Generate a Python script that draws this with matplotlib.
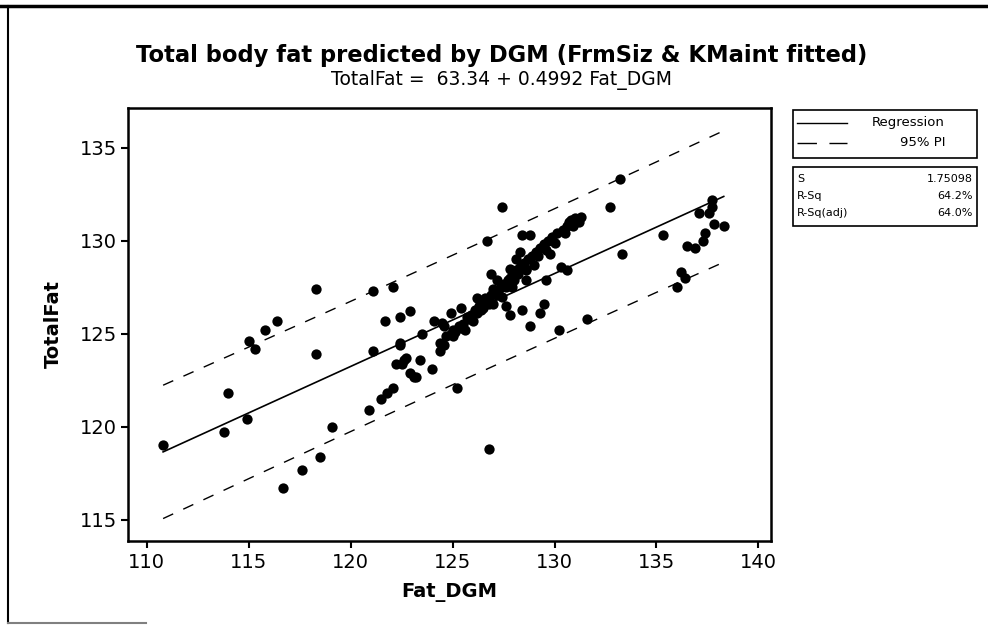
import numpy as np
import matplotlib
matplotlib.use('Agg')
import matplotlib.pyplot as plt
from matplotlib.lines import Line2D
from matplotlib.patches import Rectangle

plt.rcParams['font.family'] = ['DejaVu Sans']

# fitted model (from the chart subtitle / stats box)
b0, b1 = 63.34, 0.4992
s_val = 1.75098
r_sq = '64.2%'
r_sq_adj = '64.0%'
t_crit = 1.98

fat_dgm = [110.8, 113.8, 114.0, 114.9, 115.0, 115.3, 115.8, 116.4, 116.7, 117.6,
           118.3, 118.3, 118.5, 119.1, 120.9, 121.1, 121.1, 121.5, 121.7, 121.8,
           122.1, 122.1, 122.2, 122.4, 122.4, 122.4, 122.5, 122.6, 122.7, 122.9,
           122.9, 123.1, 123.2, 123.4, 123.5, 124.0, 124.1, 124.4, 124.4, 124.5,
           124.6, 124.7, 124.9, 124.9, 125.0, 125.1, 125.2, 125.3, 125.4, 125.5,
           125.6, 125.7, 125.9, 126.0, 126.1, 126.2, 126.3, 126.5, 126.5, 126.6,
           126.7, 126.8, 126.8, 126.9, 126.9, 127.0, 127.1, 127.2, 127.3, 127.4,
           127.4, 127.5, 127.6, 127.7, 127.8, 127.8, 127.9, 127.9, 128.1, 128.1,
           128.3, 128.3, 128.4, 128.4, 128.5, 128.6, 128.6, 128.7, 128.8, 128.8,
           128.9, 129.0, 129.1, 129.3, 129.3, 129.5, 129.5, 129.6, 129.7, 129.8,
           129.9, 130.1, 130.2, 130.3, 130.4, 130.6, 130.6, 130.7, 130.8, 131.0,
           131.3, 131.6, 132.7, 133.2, 133.3, 135.3, 136.0, 136.2, 136.4, 136.5,
           136.9, 137.1, 137.3, 137.4, 137.6, 137.7, 137.7, 137.8, 138.3,
           124.6, 125.0, 125.4, 125.8, 126.2, 126.4, 126.8, 127.2, 127.6, 128.0,
           128.2, 128.6, 129.2, 129.6, 130.0, 130.5, 130.9, 131.2, 127.0, 127.8]
total_fat = [119.0, 119.7, 121.8, 120.4, 124.6, 124.2, 125.2, 125.7, 116.7, 117.7,
             127.4, 123.9, 118.4, 120.0, 120.9, 124.1, 127.3, 121.5, 125.7, 121.8,
             127.5, 122.1, 123.4, 125.9, 124.5, 124.4, 123.4, 123.6, 123.7, 122.9,
             126.2, 122.7, 122.7, 123.6, 125.0, 123.1, 125.7, 124.5, 124.1, 125.6,
             125.4, 124.9, 126.1, 125.0, 125.2, 125.1, 122.1, 125.4, 126.4, 125.5,
             125.2, 125.9, 126.0, 125.7, 126.3, 126.9, 126.5, 126.7, 126.4, 126.9,
             130.0, 126.9, 118.8, 128.2, 127.1, 126.6, 127.3, 127.9, 127.4, 131.8,
             127.0, 127.7, 126.5, 127.9, 126.0, 128.5, 128.1, 127.5, 128.4, 129.0,
             128.6, 129.4, 130.3, 126.3, 128.8, 127.9, 128.4, 129.0, 125.4, 130.3,
             129.2, 128.7, 129.4, 129.6, 126.1, 129.8, 126.6, 127.9, 130.0, 129.3,
             130.2, 130.4, 125.2, 128.6, 130.6, 130.8, 128.4, 131.0, 131.1, 131.2,
             131.3, 125.8, 131.8, 133.3, 129.3, 130.3, 127.5, 128.3, 128.0, 129.7,
             129.6, 131.5, 130.0, 130.4, 131.5, 132.2, 131.8, 130.9, 130.8,
             124.4, 124.9, 125.3, 125.8, 126.1, 126.3, 126.6, 127.1, 127.5, 127.9,
             128.2, 128.5, 129.2, 129.5, 129.9, 130.4, 130.8, 131.0, 127.4, 128.0]

x = np.array(fat_dgm)
y = np.array(total_fat)

fig = plt.figure(figsize=(9.88, 6.26), dpi=100)
ax = fig.add_axes([0.130, 0.136, 0.650, 0.692])

xs = np.linspace(x.min(), x.max(), 200)
yhat = b0 + b1 * xs
n = len(x)
sxx = np.sum((x - x.mean()) ** 2)
half = t_crit * s_val * np.sqrt(1 + 1 / n + (xs - x.mean()) ** 2 / sxx)

ax.scatter(x, y, s=55, color='black', zorder=3, linewidths=0)
ax.plot(xs, yhat, color='black', lw=1.2)
ax.plot(xs, yhat + half, color='black', lw=1.0, dashes=(8, 8))
ax.plot(xs, yhat - half, color='black', lw=1.0, dashes=(8, 8))

ax.set_xlim(109.1, 140.6)
ax.set_ylim(113.87, 137.15)
ax.set_xticks([110, 115, 120, 125, 130, 135, 140])
ax.set_yticks([115, 120, 125, 130, 135])
ax.tick_params(direction='out', length=5, width=1.5, labelsize=14)
for sp in ax.spines.values():
    sp.set_linewidth(1.8)

ax.set_xlabel('Fat_DGM', fontsize=14, fontweight='bold', labelpad=8)
ax.set_ylabel('TotalFat', fontsize=14, fontweight='bold', labelpad=12)

fig.text(0.508, 0.912, 'Total body fat predicted by DGM (FrmSiz & KMaint fitted)',
         ha='center', va='center', fontsize=16.3, fontweight='bold')
fig.text(0.508, 0.872, 'TotalFat =  63.34 + 0.4992 Fat_DGM',
         ha='center', va='center', fontsize=13.5)

W, H = 988.0, 626.0


def fx(px):
    return px / W


def fy(py):
    return 1 - py / H


# legend box
fig.add_artist(Rectangle((fx(793), fy(158)), fx(184), 48 / H, fill=False,
                         lw=1.2, color='black', transform=fig.transFigure))
fig.add_artist(Line2D([fx(797), fx(847)], [fy(123), fy(123)], color='black', lw=1.0,
                      transform=fig.transFigure))
fig.add_artist(Line2D([fx(797), fx(847)], [fy(143), fy(143)], color='black', lw=1.0,
                      dashes=(14, 9), transform=fig.transFigure))
fig.text(fx(945), fy(123), 'Regression', ha='right', va='center', fontsize=9.5)
fig.text(fx(945), fy(143), '95% PI', ha='right', va='center', fontsize=9.5)

# stats box
fig.add_artist(Rectangle((fx(793), fy(226)), fx(184), 59 / H, fill=False,
                         lw=1.2, color='black', transform=fig.transFigure))
rows = [('S', f'{s_val}'), ('R-Sq', r_sq), ('R-Sq(adj)', r_sq_adj)]
for i, (lab, val) in enumerate(rows):
    yy = fy(179 + i * 17)
    fig.text(fx(797), yy, lab, ha='left', va='center', fontsize=8)
    fig.text(fx(973), yy, val, ha='right', va='center', fontsize=8)

# scanned page frame
fig.add_artist(Line2D([0, 1], [fy(6), fy(6)], color='black', lw=2.5, transform=fig.transFigure))
fig.add_artist(Line2D([fx(8), fx(8)], [fy(6), fy(623)], color='black', lw=1.5, transform=fig.transFigure))
fig.add_artist(Line2D([fx(8), fx(146)], [fy(623), fy(623)], color='gray', lw=1.5, transform=fig.transFigure))

fig.savefig('out.png', dpi=100)
